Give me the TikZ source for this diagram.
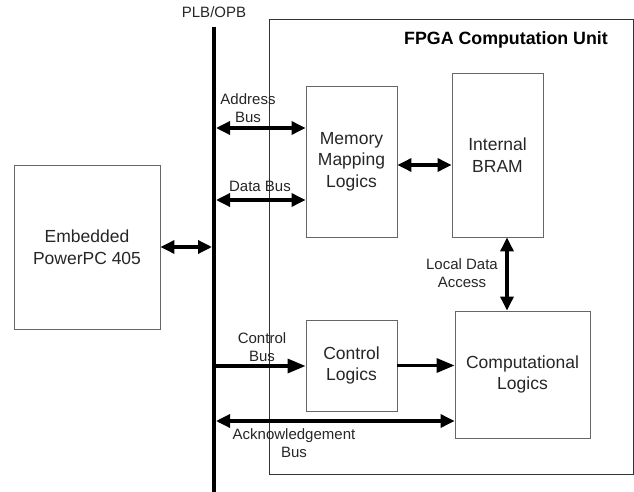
\documentclass[tikz,border=0pt]{standalone}
\usepackage{fontspec}
\setmainfont{Liberation Sans}
\usetikzlibrary{arrows.meta,calc}
\begin{document}
\begin{tikzpicture}[x=1pt,y=-1pt,
  blk/.style={draw=black!60,line width=0.9pt,rectangle,inner sep=0pt,align=center,
    font=\fontsize{17.5}{21.5}\selectfont,text=black!85},
  lbl/.style={align=center,inner sep=0pt,font=\fontsize{15}{18}\selectfont,text=black!85},
  conn/.style={line width=3.3pt,-{Triangle[length=18pt,width=14pt]}},
  bconn/.style={line width=3.3pt,{Triangle[length=14pt,width=13pt]}-{Triangle[length=14pt,width=13pt]}}]
\useasboundingbox (0,0) rectangle (634,492);
% FPGA unit frame
\node[draw=black!80,line width=0.8pt,minimum width=364pt,minimum height=455pt,inner sep=0pt] (fpga) at (451,246.5) {};
\node[font=\bfseries\fontsize{17.8}{21}\selectfont,inner sep=0pt] (title) at (506,40) {FPGA Computation Unit};
% bus
\coordinate (busTop) at (214,27);
\coordinate (busBot) at (214,492);
\draw[line width=4pt] (busTop) -- (busBot);
\node[lbl] (plb) at (214,12) {PLB/OPB};
% blocks
\node[blk,minimum width=146pt,minimum height=164pt] (ppc) at (87,247) {Embedded\\PowerPC 405};
\node[blk,minimum width=91pt,minimum height=151pt] (mml) at (351.5,161.5) {Memory\\Mapping\\Logics};
\node[blk,minimum width=91pt,minimum height=164pt] (bram) at (497.5,155) {Internal\\BRAM};
\node[blk,minimum width=91pt,minimum height=91pt] (ctrl) at (351.5,365.5) {Control\\Logics};
\node[blk,minimum width=135pt,minimum height=127pt] (comp) at (522.5,374.5) {Computational\\Logics};
% bus taps
\coordinate (bA) at (214,128);
\coordinate (bD) at (214,200);
\coordinate (bC) at (214,366);
\coordinate (bK) at (214,421);
% connectors
\draw[bconn,shorten <=2pt] (bA) -- (bA -| mml.west);
\draw[bconn,shorten <=2pt] (bD) -- (bD -| mml.west);
\draw[bconn,shorten >=2pt] (ppc.east) -- (ppc.east -| busTop);
\draw[bconn] ([yshift=-3.5pt]mml.east) -- ([yshift=-3.5pt]mml.east -| bram.west);
\draw[bconn] ([xshift=9.5pt]bram.south) -- ([xshift=9.5pt]bram.south |- comp.north);
\draw[conn,shorten <=-2pt] (bC) -- (bC -| ctrl.west);
\draw[conn] (ctrl.east) -- (ctrl.east -| comp.west);
\draw[bconn,shorten <=2pt] (bK) -- (bK -| comp.west);
% labels
\node[lbl] (laddr) at (248,108.5) {Address\\Bus};
\node[lbl] (ldata) at (260,186) {Data Bus};
\node[lbl] (lctrl) at (262,347) {Control\\Bus};
\node[lbl] (lack) at (294,443.5) {Acknowledgement\\Bus};
\node[lbl] (lloc) at (462,273.5) {Local Data\\Access};
\end{tikzpicture}
\end{document}
